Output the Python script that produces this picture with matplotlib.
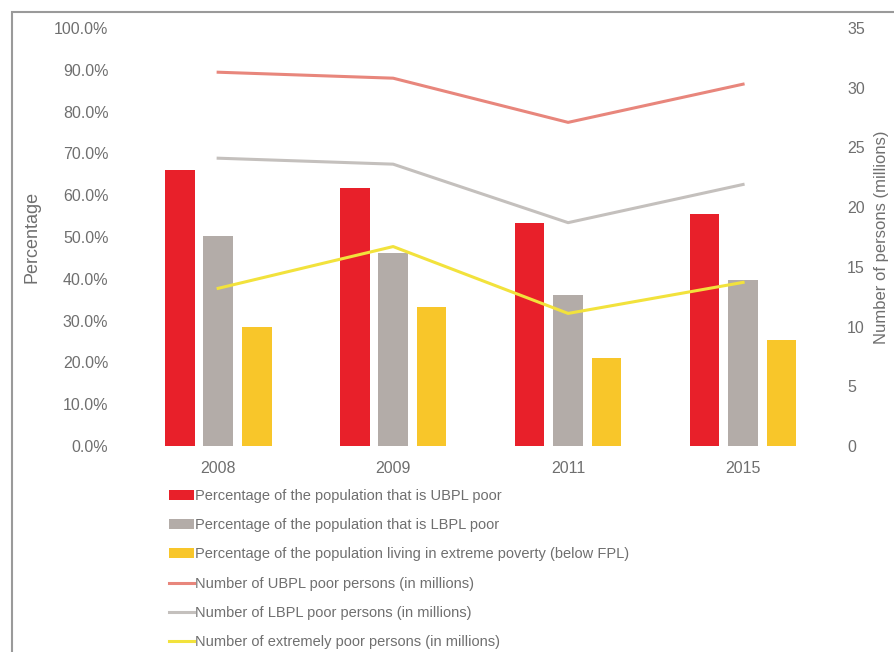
import numpy as np
import matplotlib.pyplot as plt
from matplotlib.patches import Rectangle

plt.rcParams['font.family'] = ['Liberation Sans', 'DejaVu Sans']

years = ["2008", "2009", "2011", "2015"]
ubpl_pct = [66.0, 61.7, 53.3, 55.4]
lbpl_pct = [50.2, 46.2, 36.1, 39.7]
fpl_pct = [28.5, 33.3, 21.0, 25.4]
ubpl_num = [31.3, 30.8, 27.1, 30.3]
lbpl_num = [24.1, 23.6, 18.7, 21.9]
fpl_num = [13.2, 16.7, 11.1, 13.7]

RED = "#e8202a"
GREY = "#b3aca8"
YELLOW = "#f8c62a"
TEXT = "#6f6f6f"

fig = plt.figure(figsize=(8.95, 6.52), dpi=100)
fig.patches.append(Rectangle((12 / 895, -0.05), 1.0, (640 / 652) + 0.05, transform=fig.transFigure,
                             fill=False, edgecolor="#9a9a9a", linewidth=1.5))

ax = fig.add_axes([0.146, 0.316, 0.782, 0.641])
x = np.arange(len(years))
w = 0.17
off = 0.22
b1 = ax.bar(x - off, ubpl_pct, w, color=RED, label="Percentage of the population that is UBPL poor")
b2 = ax.bar(x, lbpl_pct, w, color=GREY, label="Percentage of the population that is LBPL poor")
b3 = ax.bar(x + off, fpl_pct, w, color=YELLOW,
            label="Percentage of the population living in extreme poverty (below FPL)")
ax.set_ylim(0, 100)
ax.set_xlim(-0.5, 3.5)
ax.set_yticks(np.arange(0, 101, 10))
ax.set_yticklabels([f"{v:.1f}%" for v in np.arange(0, 101, 10)])
ax.set_xticks(x)
ax.set_xticklabels(years)
ax.set_ylabel("Percentage", color=TEXT, fontsize=13)
ax.yaxis.set_label_coords(-0.129, 0.5)
for s in ax.spines.values():
    s.set_visible(False)
ax.tick_params(length=0, colors=TEXT, labelsize=11.5)
ax.tick_params(axis="y", pad=16)
ax.tick_params(axis="x", pad=11)

ax2 = ax.twinx()
l1, = ax2.plot(x, ubpl_num, color="#e8867c", linewidth=2.2, label="Number of UBPL poor persons (in millions)")
l2, = ax2.plot(x, lbpl_num, color="#c4c0bd", linewidth=2.2, label="Number of LBPL poor persons (in millions)")
l3, = ax2.plot(x, fpl_num, color="#f2e23c", linewidth=2.2, label="Number of extremely poor persons (in millions)")
ax2.set_ylim(0, 35)
ax2.set_yticks(np.arange(0, 36, 5))
ax2.set_ylabel("Number of persons (millions)", color=TEXT, fontsize=12)
ax2.yaxis.set_label_coords(1.062, 0.5)
for s in ax2.spines.values():
    s.set_visible(False)
ax2.tick_params(length=0, colors=TEXT, labelsize=11.5, pad=12)

handles = [b1, b2, b3, l1, l2, l3]
fig.legend(handles, [h.get_label() for h in handles], loc="upper left",
           bbox_to_anchor=(163 / 895, 1 - 483 / 652), frameon=False, fontsize=10.5,
           labelcolor=TEXT, handlelength=1.7, handletextpad=0.1, labelspacing=1.05,
           borderaxespad=0)

fig.savefig("out.png", dpi=100)
